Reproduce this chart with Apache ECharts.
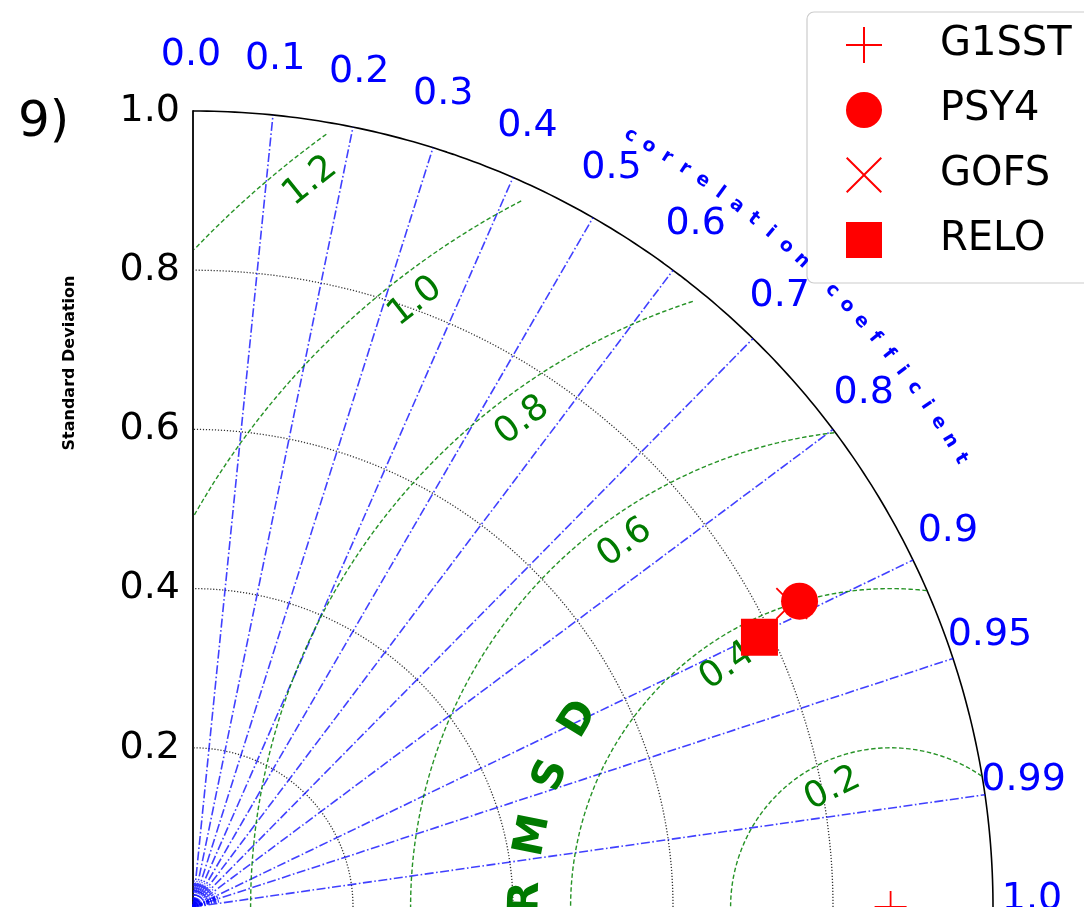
<!DOCTYPE html>
<html>
<head>
<meta charset="utf-8">
<script src="https://cdn.jsdelivr.net/npm/echarts@6/dist/echarts.min.js"></script>
<style>
  html, body { margin: 0; padding: 0; background: #fff; }
  #chart { width: 1084px; height: 907px; }
</style>
</head>
<body>
<div id="chart"></div>
<script>
// data
const modelNames = ['G1SST', 'PSY4', 'GOFS', 'RELO'];
const modelStd = [0.872, 0.850, 0.840, 0.785];
const modelCorr = [1.0, 0.892, 0.891, 0.902];
const refStd = 0.872;

const corrTicks = [0.0, 0.1, 0.2, 0.3, 0.4, 0.5, 0.6, 0.7, 0.8, 0.9, 0.95, 0.99, 1.0];
const corrTickLabels = ['0.0', '0.1', '0.2', '0.3', '0.4', '0.5', '0.6', '0.7', '0.8', '0.9', '0.95', '0.99', '1.0'];
const corrMinor = [0.05, 0.15, 0.25, 0.35, 0.45, 0.55, 0.65, 0.75, 0.85, 0.91, 0.92, 0.93, 0.94, 0.96, 0.97, 0.98];
const stdTicks = [0.2, 0.4, 0.6, 0.8, 1.0];
const rmsdLevels = [0.2, 0.4, 0.6, 0.8, 1.0, 1.2];
const rmsdLabels = ['0.2', '0.4', '0.6', '0.8', '1.0', '1.2'];

// where the RMSD labels sit (angle round the reference point, degrees) and where each contour stops
const rmsdLabelAngle = [116, 124, 126, 127, 128, 128.5];
const rmsdClip = [1.0, 1.0, 1.0, 0.987, 0.978, 0.986];
const font = 'DejaVu Sans';

const plusPath = 'path://M0,17h36v2H0z M17,0h2v36h-2z';
const crossPath = 'path://M1.4,0L18,16.6L34.6,0L36,1.4L19.4,18L36,34.6L34.6,36L18,19.4L1.4,36L0,34.6L16.6,18L0,1.4z';
const modelSymbol = { G1SST: plusPath, PSY4: 'circle', GOFS: crossPath, RELO: 'rect' };
const modelSize = { G1SST: 32, PSY4: 37, GOFS: 32, RELO: 37 };
const modelZ = { G1SST: 6, PSY4: 6, GOFS: 5, RELO: 7 };

const rad = d => d * Math.PI / 180;
const toXY = (std, corr) => [std * corr, std * Math.sqrt(Math.max(0, 1 - corr * corr))];

const series = [];

// standard deviation arcs
stdTicks.forEach(s => {
  const pts = [];
  for (let a = 0; a <= 90; a += 0.5) pts.push([s * Math.cos(rad(a)), s * Math.sin(rad(a))]);
  series.push({
    type: 'line', data: pts, symbol: 'none', silent: true, clip: false, animation: false, z: 2,
    lineStyle: s === 1 ? { color: '#000', width: 1.6 } : { color: '#333', width: 1.3, type: [1.2, 1.8] }
  });
});

// correlation rays
corrTicks.filter(c => c > 0 && c < 1).forEach(c => {
  series.push({
    type: 'line', data: [[0, 0], toXY(1, c)], symbol: 'none', silent: true, clip: false, animation: false, z: 2,
    lineStyle: { color: 'rgba(0,0,255,0.75)', width: 1.6, type: [9, 2.5, 1.6, 2.5] }
  });
});
corrMinor.forEach(c => {
  series.push({
    type: 'line', data: [[0, 0], toXY(0.035, c)], symbol: 'none', silent: true, clip: false, animation: false, z: 2,
    lineStyle: { color: 'rgba(0,0,255,0.75)', width: 1.4, type: [3, 1.5, 1, 1.5] }
  });
});

// RMSD contours round the reference
rmsdLevels.forEach((d, i) => {
  const pts = [];
  for (let p = 0; p <= 180; p += 0.25) {
    const x = refStd + d * Math.cos(rad(p));
    const y = d * Math.sin(rad(p));
    if (x >= 0 && Math.hypot(x, y) <= rmsdClip[i]) pts.push([x, y]);
  }
  series.push({
    type: 'line', data: pts, symbol: 'none', silent: true, clip: false, animation: false, z: 2,
    lineStyle: { color: 'rgba(0,128,0,0.85)', width: 1.4, type: [4.5, 2.5] }
  });
});

const textSeries = (data, label) => ({
  type: 'scatter', symbolSize: 1, silent: true, clip: false, animation: false, z: 4,
  itemStyle: { color: 'rgba(0,0,0,0)', opacity: 1 },
  label: Object.assign({ show: true, position: 'inside', formatter: '{b}', fontFamily: font, opacity: 1 }, label),
  data: data
});

// RMSD labels
series.push(textSeries(rmsdLevels.map((d, i) => {
  const p = rmsdLabelAngle[i];
  const r = d - 0.035;
  return {
    name: rmsdLabels[i],
    value: [refStd + r * Math.cos(rad(p)), r * Math.sin(rad(p))],
    label: { rotate: p - 90 }
  };
}), { color: '#007a00', fontSize: 36 }));

// RMSD title letters
series.push(textSeries('RMSD'.split('').map((ch, i) => {
  const p = 178.5 - 9.9 * i;
  return {
    name: ch,
    value: [refStd + 0.455 * Math.cos(rad(p)), 0.455 * Math.sin(rad(p))],
    label: { rotate: p - 90 }
  };
}), { color: '#007a00', fontSize: 42, fontWeight: 'bold' }));

// correlation tick labels
series.push(textSeries(corrTicks.map((c, i) => ({
  name: corrTickLabels[i],
  value: toXY(1.06, c),
  label: { offset: [-2 - 7 * c, -8] }
})), { color: '#0000ff', fontSize: 38 }));

// "correlation coefficient" along the arc
series.push(textSeries('correlation coefficient'.split('').map((ch, i) => {
  const a = 60.57 - 1.371 * i;
  return {
    name: ch === ' ' ? '' : ch,
    value: [1.113 * Math.cos(rad(a)), 1.113 * Math.sin(rad(a))],
    label: { rotate: a - 90 }
  };
}), { color: '#0000ff', fontSize: 19, fontWeight: 'bold' }));

// models
modelNames.forEach((name, i) => {
  series.push({
    type: 'scatter', name: name, clip: false, animation: false, silent: true,
    z: modelZ[name],
    symbol: modelSymbol[name], symbolSize: modelSize[name],
    itemStyle: { color: '#ff0000', opacity: 1 },
    data: [toXY(modelStd[i], modelCorr[i])]
  });
});

const chart = echarts.init(document.getElementById('chart'));
chart.setOption({
  animation: false,
  textStyle: { fontFamily: font },
  grid: { left: 193, top: 111, width: 800, height: 800 },
  xAxis: { type: 'value', min: 0, max: 1, show: false },
  yAxis: {
    type: 'value', min: 0, max: 1, interval: 0.2,
    axisLine: { show: true, lineStyle: { color: '#000', width: 1.8 } },
    axisTick: { show: false },
    splitLine: { show: false },
    axisLabel: {
      showMinLabel: false, margin: 13, fontSize: 38, color: '#000', fontFamily: font,
      formatter: v => v.toFixed(1)
    }
  },
  legend: {
    orient: 'vertical', left: 807, top: 12,
    padding: [13, 30, 23, 39],
    itemWidth: 36, itemHeight: 36, itemGap: 25,
    backgroundColor: '#fff', borderColor: '#cccccc', borderWidth: 1.2, borderRadius: 7,
    selectedMode: false,
    itemStyle: { opacity: 1 },
    textStyle: { fontSize: 40, color: '#000', fontFamily: font, lineHeight: 36, padding: [0, 0, 0, 53] },
    data: modelNames.map(n => ({ name: n, icon: modelSymbol[n] }))
  },
  graphic: [
    {
      type: 'text', left: 18, top: 98,
      style: { text: '9)', fontSize: 50, fill: '#000', fontFamily: font }
    },
    {
      type: 'text', x: 70, y: 363, rotation: Math.PI / 2,
      style: { text: 'Standard Deviation', fontSize: 16, fontWeight: 'bold', fill: '#000', fontFamily: font, align: 'center', verticalAlign: 'middle' }
    }
  ],
  series: series
});
</script>
</body>
</html>
